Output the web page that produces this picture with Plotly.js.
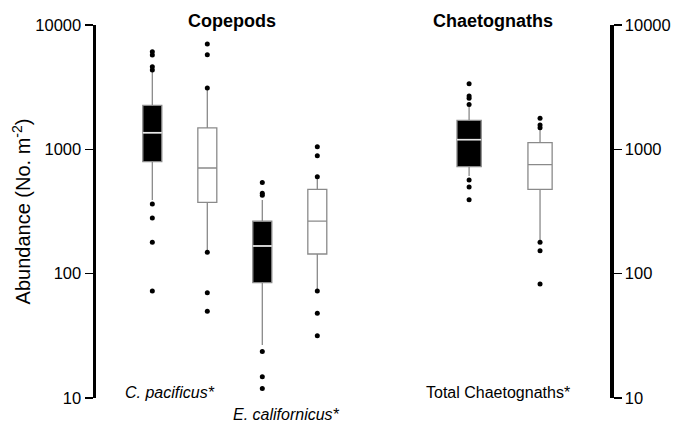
<!DOCTYPE html>
<html>
<head>
<meta charset="utf-8">
<script src="https://cdn.plot.ly/plotly-3.0.1.min.js"></script>
<style>html,body{margin:0;padding:0;background:#fff}#chart{width:675px;height:423px}</style>
</head>
<body>
<div id="chart"></div>
<script>
// ---- data ----
const groups    = ["C. pacificus A", "C. pacificus B", "E. californicus A", "E. californicus B", "Chaetognaths A", "Chaetognaths B"];
const positions = [1, 2, 3, 4, 6.76, 8.05];
const filled    = [true, false, true, false, true, false];
const q1        = [796, 375, 84.6, 144, 726, 477];
const median    = [1360, 708, 167, 265, 1196, 753];
const q3        = [2260, 1490, 264, 477, 1710, 1131];
const lowerWhisker = [391, 155, 26.7, 75, 610, 185];
const upperWhisker = [4200, 3000, 391, 590, 2200, 1450];
const outliers = [
  [6100, 5740, 4620, 4350, 363, 280, 179, 72.6],
  [7030, 5770, 3110, 149, 70.3, 49.8],
  [540, 443, 427, 23.7, 14.8, 11.9],
  [1050, 890, 603, 72.6, 48, 31.7],
  [3370, 2690, 2570, 2290, 567, 498, 394],
  [1775, 1570, 1494, 179, 153, 82.6]
];
const tickVals = [10, 100, 1000, 10000];
const tickText = ["10", "100", "1000", "10000"];
const minorTickVals = [20, 30, 40, 50, 60, 70, 80, 90,
                       200, 300, 400, 500, 600, 700, 800, 900,
                       2000, 3000, 4000, 5000, 6000, 7000, 8000, 9000];
const groupLabels = ["Copepods", "Chaetognaths"];
const categoryLabels = ["C. pacificus*", "E. californicus*", "Total Chaetognaths*"];

// ---- style ----
const boxWidths = [0.345, 0.345, 0.345, 0.345, 0.44, 0.44];
const FONT = "Liberation Sans, Arial, sans-serif";
const X_RANGE = [-0.024, 9.322];
const PX = (X_RANGE[1] - X_RANGE[0]) / 514; // data units per pixel

const traces = [];
positions.forEach((p, i) => {
  traces.push({
    type: "box",
    name: groups[i],
    x: [p],
    q1: [q1[i]], median: [median[i]], q3: [q3[i]],
    lowerfence: [lowerWhisker[i]], upperfence: [upperWhisker[i]],
    width: boxWidths[i],
    whiskerwidth: 0,
    fillcolor: filled[i] ? "#000000" : "#ffffff",
    line: { color: "#8a8a8a", width: 1.3 },
    boxpoints: false,
    showlegend: false,
    hoverinfo: "skip"
  });
});
// white median lines on filled boxes
const mx = [], my = [];
positions.forEach((p, i) => {
  if (filled[i]) {
    mx.push(p - boxWidths[i] / 2, p + boxWidths[i] / 2, null);
    my.push(median[i], median[i], null);
  }
});
traces.push({ type: "scatter", mode: "lines", x: mx, y: my,
  line: { color: "#e8e8e8", width: 1.6 }, showlegend: false, hoverinfo: "skip" });
// outliers
const ox = [], oy = [];
outliers.forEach((arr, i) => arr.forEach(v => { ox.push(positions[i]); oy.push(v); }));
traces.push({ type: "scatter", mode: "markers", x: ox, y: oy,
  marker: { color: "#000", size: 5 }, showlegend: false, hoverinfo: "skip" });
// minor ticks (left and right axes), drawn as short horizontal line markers
[X_RANGE[0] - 5 * PX, X_RANGE[1] + 6 * PX].forEach(xp => {
  traces.push({ type: "scatter", mode: "markers", x: minorTickVals.map(() => xp), y: minorTickVals,
    cliponaxis: false,
    marker: { symbol: "line-ew", size: 6, line: { color: "#111", width: 1.2 } },
    showlegend: false, hoverinfo: "skip" });
});
// dummy trace for right axis
traces.push({ type: "scatter", mode: "markers", x: [2], y: [100], yaxis: "y2", marker: { opacity: 0 }, showlegend: false, hoverinfo: "skip" });

const yax = {
  type: "log", range: [1, 4],
  tickmode: "array", tickvals: tickVals, ticktext: tickText,
  ticks: "outside", ticklen: 8, tickwidth: 1.3, tickcolor: "#000",
  showline: true, linewidth: 3.5, linecolor: "#000",
  showgrid: false, zeroline: false,
  tickfont: { family: FONT, size: 16.5, color: "#000" }
};

const layout = {
  width: 675, height: 423,
  margin: { l: 96, r: 65, t: 25, b: 25 },
  paper_bgcolor: "#fff", plot_bgcolor: "#fff",
  showlegend: false,
  xaxis: { range: X_RANGE, visible: false, fixedrange: true },
  yaxis: Object.assign({}, yax, {
    title: { text: "Abundance (No. m<sup>-2</sup>)", font: { family: FONT, size: 20, color: "#000" }, standoff: 0 }
  }),
  yaxis2: Object.assign({}, yax, { overlaying: "y", side: "right" }),
  annotations: [
    { text: "<b>" + groupLabels[0] + "</b>", x: 2.444, y: 1.0115, xref: "x", yref: "paper", showarrow: false, xanchor: "center", yanchor: "middle", font: { family: FONT, size: 18, color: "#000" } },
    { text: "<b>" + groupLabels[1] + "</b>", x: 7.195, y: 1.0115, xref: "x", yref: "paper", showarrow: false, xanchor: "center", yanchor: "middle", font: { family: FONT, size: 18, color: "#000" } },
    { text: "<i>" + categoryLabels[0] + "</i>", x: 1.313, y: 0.016, xref: "x", yref: "paper", showarrow: false, xanchor: "center", yanchor: "middle", font: { family: FONT, size: 16, color: "#000" } },
    { text: "<i>" + categoryLabels[1] + "</i>", x: 3.431, y: -0.045, xref: "x", yref: "paper", showarrow: false, xanchor: "center", yanchor: "middle", font: { family: FONT, size: 16, color: "#000" } },
    { text: categoryLabels[2], x: 7.285, y: 0.016, xref: "x", yref: "paper", showarrow: false, xanchor: "center", yanchor: "middle", font: { family: FONT, size: 16, color: "#000" } }
  ]
};

Plotly.newPlot("chart", traces, layout, { staticPlot: true, displayModeBar: false });
</script>
</body>
</html>
